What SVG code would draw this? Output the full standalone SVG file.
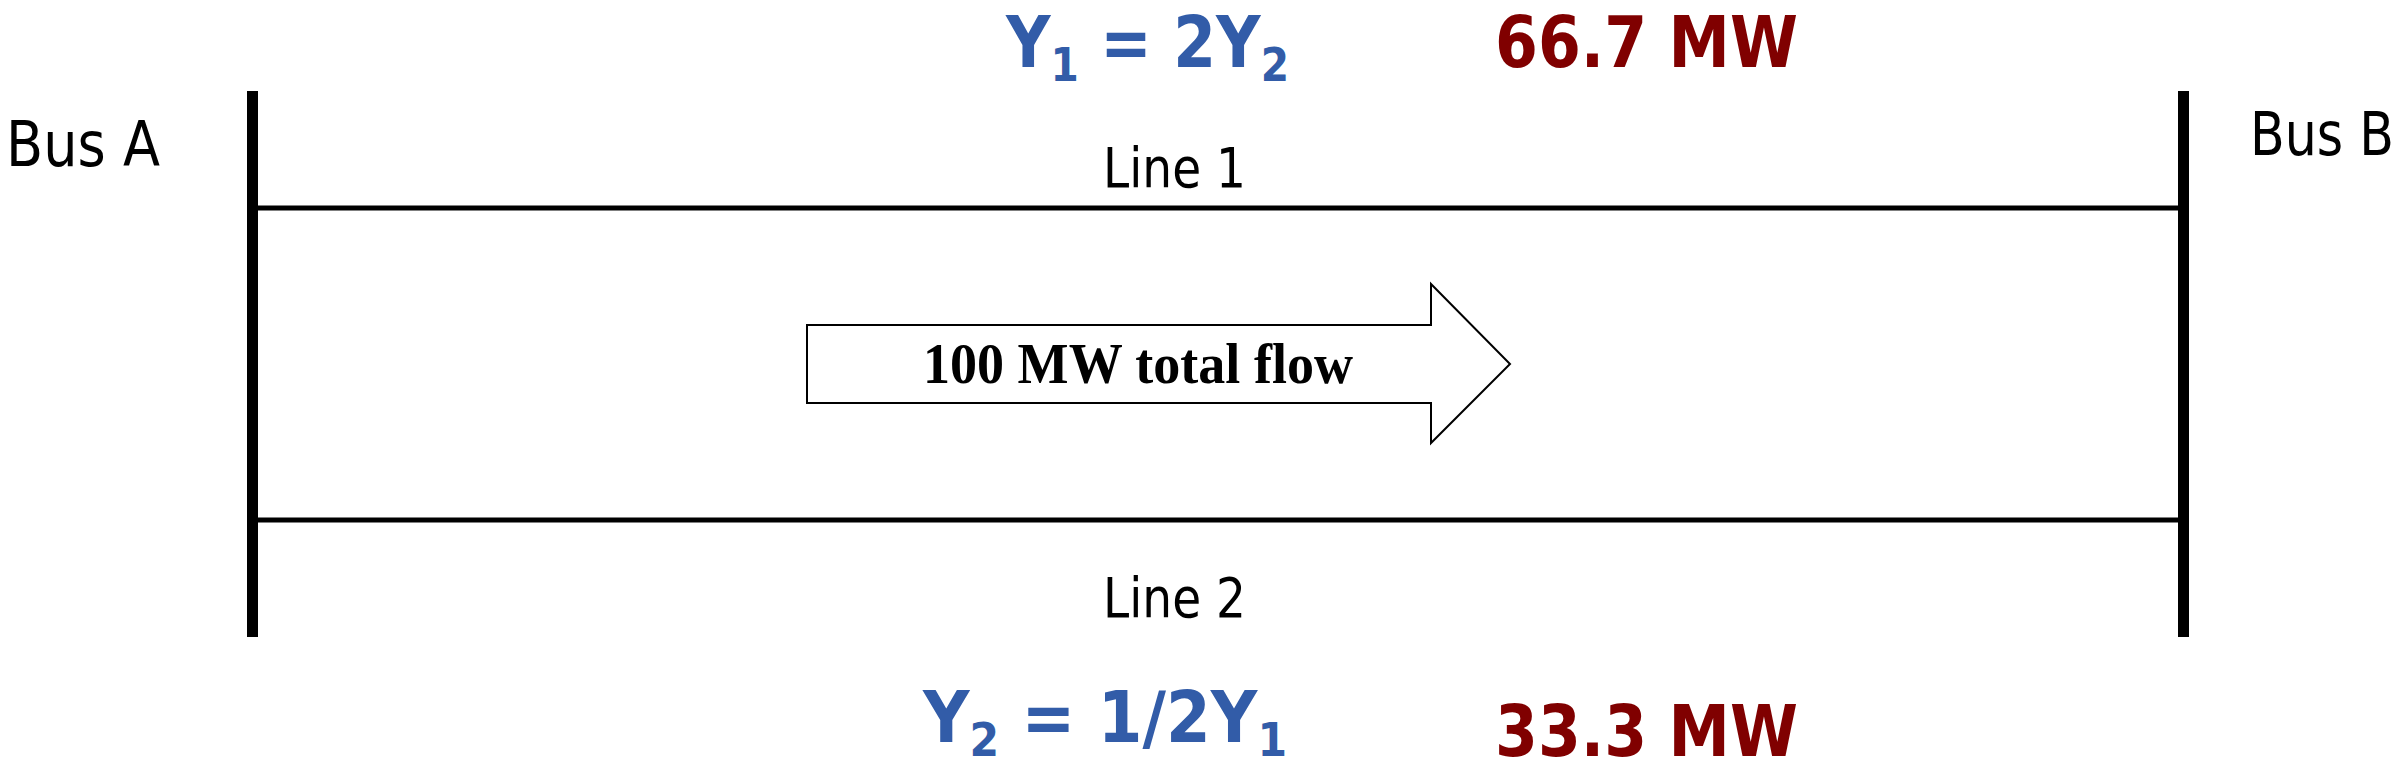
<svg xmlns="http://www.w3.org/2000/svg" width="2398" height="782" viewBox="0 0 2398 782">
<style>
.lbl{font-family:"DejaVu Sans","Verdana",sans-serif;fill:#000}
.eq{font-family:"DejaVu Sans","Verdana",sans-serif;font-weight:bold;fill:#325CA8;font-size:71px}
.mw{font-family:"DejaVu Sans","Verdana",sans-serif;font-weight:bold;fill:#800000;font-size:71px}
.sub{font-size:47px}
.bus{fill:#000}
.line{stroke:#000;stroke-width:5;fill:none}
.arrow{fill:#fff;stroke:#000;stroke-width:2}
.flow{font-family:"Liberation Serif","Times New Roman",serif;font-weight:bold;font-size:57px;fill:#000}
</style>
<rect width="2398" height="782" fill="#fff"/>
<g id="busA">
<rect class="bus" x="247" y="91" width="11" height="546"/>
<text class="lbl" x="6" y="166" font-size="63" textLength="154" lengthAdjust="spacingAndGlyphs">Bus A</text>
</g>
<g id="busB">
<rect class="bus" x="2178" y="91" width="11" height="546"/>
<text class="lbl" x="2250" y="155" font-size="60" textLength="144" lengthAdjust="spacingAndGlyphs">Bus B</text>
</g>
<g id="connectors">
<line id="line1" class="line" x1="258" y1="208" x2="2178" y2="208"/>
<line id="line2" class="line" x1="258" y1="520" x2="2178" y2="520"/>
</g>
<g id="line1-labels">
<text class="lbl" x="1103" y="187" font-size="55" textLength="143" lengthAdjust="spacingAndGlyphs">Line 1</text>
<text class="eq" x="1006" y="67" textLength="283" lengthAdjust="spacingAndGlyphs">Y<tspan class="sub" dy="14">1</tspan><tspan dy="-14"> = 2Y</tspan><tspan class="sub" dy="14">2</tspan></text>
<text class="mw" x="1495" y="67" textLength="303" lengthAdjust="spacingAndGlyphs">66.7 MW</text>
</g>
<g id="line2-labels">
<text class="lbl" x="1103" y="617" font-size="55" textLength="143" lengthAdjust="spacingAndGlyphs">Line 2</text>
<text class="eq" x="923" y="742" textLength="364" lengthAdjust="spacingAndGlyphs">Y<tspan class="sub" dy="14">2</tspan><tspan dy="-14"> = 1/2Y</tspan><tspan class="sub" dy="14">1</tspan></text>
<text class="mw" x="1495" y="756" textLength="303" lengthAdjust="spacingAndGlyphs">33.3 MW</text>
</g>
<g id="flow-arrow">
<polygon class="arrow" points="807,325 1431,325 1431,284 1510,364 1431,443 1431,403 807,403"/>
<text class="flow" x="923" y="383" textLength="430" lengthAdjust="spacingAndGlyphs">100 MW total flow</text>
</g>
</svg>
